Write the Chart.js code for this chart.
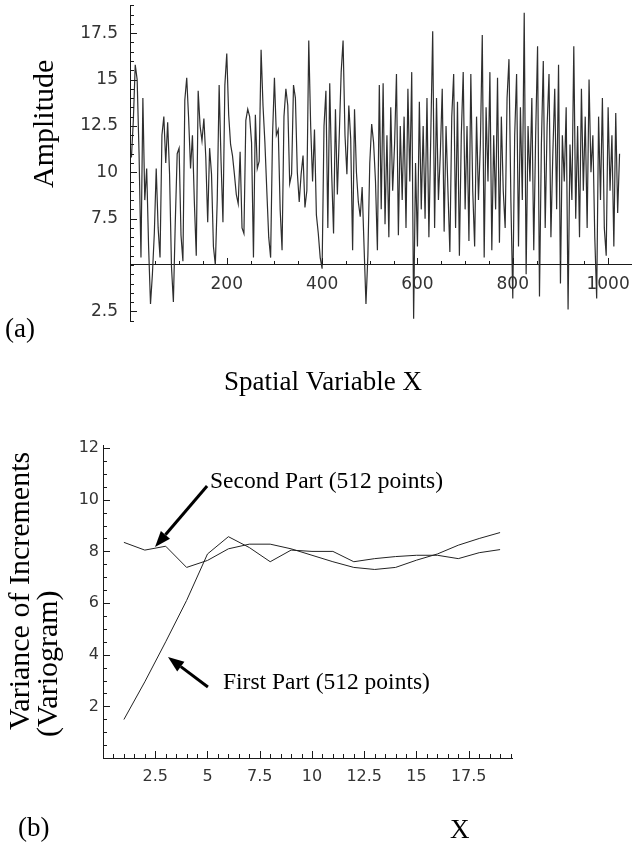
<!DOCTYPE html>
<html>
<head>
<meta charset="utf-8">
<title>Amplitude and variogram</title>
<script src="https://cdn.jsdelivr.net/npm/chart.js"></script>
<style>
  body { margin: 0; background: #fff; }
  #boxA { position: absolute; left: 0; top: 0; }
  #boxB { position: absolute; left: 0; top: 400px; }
</style>
</head>
<body>
<div id="boxA"><canvas id="chartA" width="632" height="400"></canvas></div>
<div id="boxB"><canvas id="chartB" width="632" height="444"></canvas></div>

<script>
// (a) amplitude, one value every ampStep along X
const ampStep = 4;
const ampValues = [
  10.8, 12.8, 15.8, 15.0, 11.0, 5.4, 14.0, 8.5, 10.2, 6.0, 2.9, 4.5, 6.7, 10.2, 7.0, 5.4,
  12.0, 13.0, 10.5, 12.7, 9.9, 4.9, 3.0, 7.3, 11.0, 11.3, 6.6, 5.2, 13.9, 15.1, 12.9, 10.2,
  12.0, 8.4, 5.5, 14.4, 12.5, 11.7, 12.9, 10.8, 7.3, 11.3, 9.9,
  6.0, 5.0, 8.5, 14.7, 10.6, 7.3, 14.7, 16.4, 13.1, 11.5, 10.9, 9.9, 8.8, 8.3, 11.1, 7.0,
  6.7, 12.8, 13.4, 13.0, 11.6, 5.4, 13.1, 10.2, 10.6, 16.6, 13.6, 11.6, 9.0, 6.5, 5.4, 12.0,
  15.1, 12.0, 12.3, 8.0, 5.8, 13.0, 14.5, 13.6, 9.4, 9.9,
  14.7, 14.0, 10.0, 8.4, 9.9, 10.9, 8.1, 9.0, 17.1, 12.5, 9.5, 12.3, 7.7, 6.7, 5.4, 4.8,
  12.5, 14.4, 7.0, 14.8, 10.0, 6.7, 13.4, 8.8, 12.0, 15.4, 17.1, 12.0, 9.9, 13.6, 11.8, 5.8,
  13.4, 10.0, 8.4, 7.6, 9.2, 6.0, 2.9, 5.5, 10.5, 12.6, 11.6,
  9.5, 5.8, 14.7, 8.0, 14.8, 7.2, 12.0, 6.5, 13.5, 9.0, 11.5, 15.3, 6.6, 12.5, 8.5, 13.0,
  7.0, 14.5, 9.5, 15.4, 2.1, 10.5, 6.0, 13.8, 8.0, 12.5, 7.5, 14.0, 6.5, 12.0, 17.6, 7.0,
  14.0, 8.5, 11.0, 14.5, 6.8, 12.5, 9.0, 5.7, 13.0, 15.3, 7.0, 13.8, 5.5, 12.0, 15.4, 8.0,
  12.5, 6.3, 15.3, 9.0, 6.0, 13.0, 8.5, 11.5, 17.4, 5.4, 13.5, 9.5, 15.4, 5.8, 12.0, 8.0,
  15.1, 6.2, 13.0, 9.0, 7.0, 14.0, 16.1, 8.5, 3.2, 12.0, 15.3, 6.0, 13.5, 8.5, 18.6, 4.5,
  12.5, 9.5, 14.0, 5.8, 12.0, 16.8, 3.3, 11.5, 16.0, 7.0, 12.5, 15.3, 6.5, 11.0, 14.5, 8.0,
  15.8, 4.0, 12.0, 9.5, 13.5, 2.6, 11.5, 8.5, 16.8, 7.5, 12.5, 6.5, 14.5, 9.0, 13.0, 7.0,
  15.0, 10.0, 12.0, 6.5, 3.2, 13.0, 8.5, 14.0, 7.0, 5.5, 13.5, 9.0, 12.0, 6.0, 13.2, 7.8, 11.0
];
const ampXTicks = [200, 400, 600, 800, 1000];
const ampYTicks = [2.5, 7.5, 10, 12.5, 15, 17.5];

// (b) variogram
const lags = [1, 2, 3, 4, 5, 6, 7, 8, 9, 10, 11, 12, 13, 14, 15, 16, 17, 18, 19];
const firstPart = [1.49, 2.95, 4.5, 6.1, 7.9, 8.57, 8.15, 7.6, 8.05, 8.0, 8.0, 7.6, 7.72, 7.8, 7.85, 7.85, 7.72, 7.95, 8.07];
const secondPart = [8.35, 8.05, 8.2, 7.38, 7.65, 8.1, 8.28, 8.28, 8.1, 7.85, 7.6, 7.38, 7.3, 7.38, 7.66, 7.9, 8.24, 8.5, 8.73];
const varXTicks = [2.5, 5, 7.5, 10, 12.5, 15, 17.5];
const varYTicks = [2, 4, 6, 8, 10, 12];

const serif = '"Liberation Serif", "Times New Roman", serif';
const tickFont = '"DejaVu Sans", sans-serif';
const ink = '#1a1a1a';

// short tick marks pointing into the plot, Mathematica style
function innerTicks(xStep, yStep, cross, xMajor, yMajor) {
  return {
    id: 'innerTicks',
    afterDraw(chart) {
      const {ctx, chartArea, scales: {x, y}} = chart;
      const axisY = y.getPixelForValue(cross);
      const axisX = chartArea.left;
      ctx.save();
      ctx.strokeStyle = ink;
      ctx.lineWidth = 1;
      ctx.beginPath();
      for (let i = Math.ceil(x.min / xStep); i * xStep <= x.max; i++) {
        const v = i * xStep;
        if (v <= 0) continue;
        const px = Math.round(x.getPixelForValue(v)) + 0.5;
        const len = xMajor.includes(v) ? 7 : 4;
        ctx.moveTo(px, axisY);
        ctx.lineTo(px, axisY - len);
      }
      for (let i = Math.ceil(y.min / yStep); i * yStep <= y.max; i++) {
        const v = i * yStep;
        const py = Math.round(y.getPixelForValue(v)) + 0.5;
        const len = yMajor.includes(v) ? 7 : 4;
        ctx.moveTo(axisX, py);
        ctx.lineTo(axisX + len, py);
      }
      ctx.stroke();
      ctx.restore();
    }
  };
}

function vText(ctx, str, x, y, size) {
  ctx.save();
  ctx.translate(x, y);
  ctx.rotate(-Math.PI / 2);
  ctx.font = size + 'px ' + serif;
  ctx.textAlign = 'left';
  ctx.textBaseline = 'middle';
  ctx.fillText(str, 0, 0);
  ctx.restore();
}

function arrow(ctx, x1, y1, x2, y2) {
  const ang = Math.atan2(y2 - y1, x2 - x1);
  const head = 16, half = 6;
  const bx = x2 - head * Math.cos(ang), by = y2 - head * Math.sin(ang);
  ctx.save();
  ctx.strokeStyle = '#000';
  ctx.fillStyle = '#000';
  ctx.lineWidth = 3;
  ctx.beginPath();
  ctx.moveTo(x1, y1);
  ctx.lineTo(bx, by);
  ctx.stroke();
  ctx.beginPath();
  ctx.moveTo(x2, y2);
  ctx.lineTo(bx + half * Math.sin(ang), by - half * Math.cos(ang));
  ctx.lineTo(bx - half * Math.sin(ang), by + half * Math.cos(ang));
  ctx.closePath();
  ctx.fill();
  ctx.restore();
}

const textA = {
  id: 'textA',
  afterDraw(chart) {
    const ctx = chart.ctx;
    ctx.save();
    ctx.fillStyle = '#000';
    vText(ctx, 'Amplitude', 45, 188, 30);
    ctx.font = '27px ' + serif;
    ctx.textBaseline = 'alphabetic';
    ctx.textAlign = 'left';
    ctx.fillText('(a)', 5, 337);
    ctx.textAlign = 'center';
    ctx.fillText('Spatial Variable X', 323, 390);
    ctx.restore();
  }
};

const textB = {
  id: 'textB',
  afterDraw(chart) {
    const {ctx, scales: {x, y}} = chart;
    ctx.save();
    ctx.fillStyle = '#000';
    vText(ctx, 'Variance of Increments', 21, 330, 30);
    vText(ctx, '(Variogram)', 49, 337, 30);
    ctx.font = '27px ' + serif;
    ctx.textAlign = 'left';
    ctx.textBaseline = 'alphabetic';
    ctx.fillText('(b)', 18, 436);
    ctx.fillText('X', 450, 438);
    ctx.font = '23.5px ' + serif;
    ctx.fillText('Second Part (512 points)', x.getPixelForValue(5.12), y.getPixelForValue(10.45));
    ctx.fillText('First Part (512 points)', x.getPixelForValue(5.74), y.getPixelForValue(2.67));
    arrow(ctx, x.getPixelForValue(4.98), y.getPixelForValue(10.53), x.getPixelForValue(2.49), y.getPixelForValue(8.17));
    arrow(ctx, x.getPixelForValue(5.02), y.getPixelForValue(2.75), x.getPixelForValue(3.11), y.getPixelForValue(3.91));
    ctx.restore();
  }
};

function setTicks(list) {
  return s => { s.ticks = list.map(v => ({value: v})); };
}

// fixed axis size, no extra room for edge labels
function fixSize(dim, val) {
  return s => {
    s[dim] = val;
    s.paddingTop = 0; s.paddingBottom = 0; s.paddingLeft = 0; s.paddingRight = 0;
  };
}

const plain = v => String(v);

new Chart(document.getElementById('chartA'), {
  type: 'line',
  data: {
    datasets: [{
      data: ampValues.map((v, i) => ({x: i * ampStep, y: v})),
      borderColor: '#2e2e2e',
      borderWidth: 1.2,
      pointRadius: 0,
      fill: false,
      tension: 0
    }]
  },
  options: {
    responsive: false,
    animation: false,
    events: [],
    layout: {padding: {left: 0, right: 1, top: 5, bottom: 79}},
    plugins: {legend: {display: false}, tooltip: {enabled: false}},
    scales: {
      x: {
        type: 'linear',
        position: {y: 5},
        min: -3,
        max: 1048,
        afterFit: fixSize('height', 0),
        afterBuildTicks: setTicks(ampXTicks),
        grid: {display: false, drawTicks: false},
        border: {color: ink, width: 1},
        ticks: {font: {family: tickFont, size: 17}, color: '#333', padding: 9, maxRotation: 0, autoSkip: false, callback: plain}
      },
      y: {
        type: 'linear',
        min: 1.98,
        max: 19.02,
        afterFit: fixSize('width', 130),
        afterBuildTicks: setTicks(ampYTicks),
        grid: {display: false, drawTicks: false},
        border: {color: ink, width: 1},
        ticks: {font: {family: tickFont, size: 17}, color: '#333', padding: 12, autoSkip: false, callback: plain}
      }
    }
  },
  plugins: [innerTicks(50, 0.5, 5, ampXTicks, ampYTicks), textA]
});

new Chart(document.getElementById('chartB'), {
  type: 'line',
  data: {
    datasets: [
      {
        label: 'First Part (512 points)',
        data: lags.map((l, i) => ({x: l, y: firstPart[i]})),
        borderColor: '#222', borderWidth: 1, pointRadius: 0, fill: false, tension: 0
      },
      {
        label: 'Second Part (512 points)',
        data: lags.map((l, i) => ({x: l, y: secondPart[i]})),
        borderColor: '#222', borderWidth: 1, pointRadius: 0, fill: false, tension: 0
      }
    ]
  },
  options: {
    responsive: false,
    animation: false,
    events: [],
    layout: {padding: {left: 0, right: 120, top: 45, bottom: 86}},
    plugins: {legend: {display: false}, tooltip: {enabled: false}},
    scales: {
      x: {
        type: 'linear',
        position: {y: 0},
        min: 0,
        max: 19.57,
        afterFit: fixSize('height', 0),
        afterBuildTicks: setTicks(varXTicks),
        grid: {display: false, drawTicks: false},
        border: {color: ink, width: 1},
        ticks: {font: {family: tickFont, size: 16}, color: '#333', padding: 9, maxRotation: 0, autoSkip: false, callback: plain}
      },
      y: {
        type: 'linear',
        min: 0,
        max: 12.12,
        afterFit: fixSize('width', 103),
        afterBuildTicks: setTicks(varYTicks),
        grid: {display: false, drawTicks: false},
        border: {color: ink, width: 1},
        ticks: {font: {family: tickFont, size: 16}, color: '#333', padding: 4, autoSkip: false, callback: plain}
      }
    }
  },
  plugins: [innerTicks(0.5, 0.5, 0, varXTicks, varYTicks), textB]
});
</script>
</body>
</html>
